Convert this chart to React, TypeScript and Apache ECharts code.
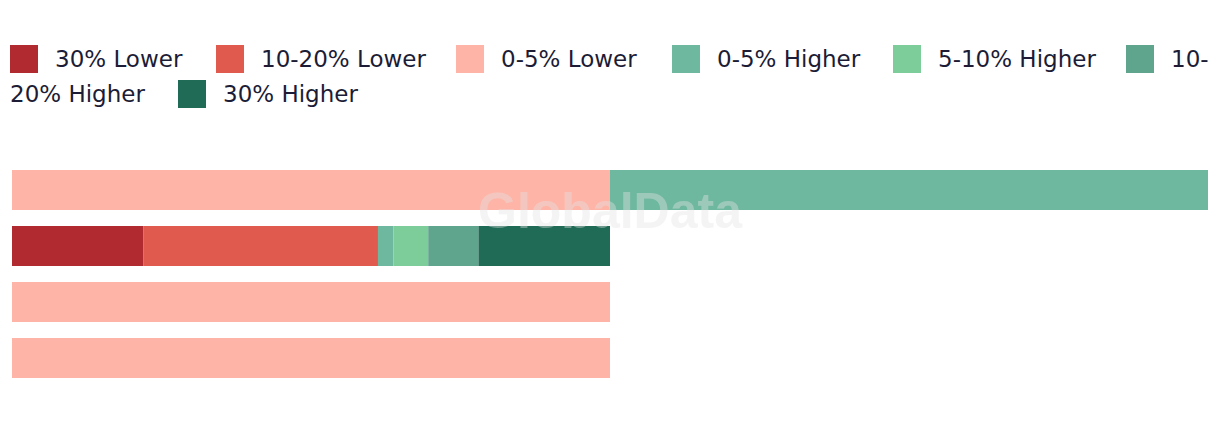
import React, { useEffect, useRef } from "react";
import * as echarts from "echarts";

const categories = ["Group 1", "Group 2", "Group 3", "Group 4"];
const seriesNames = [
  "30% Lower",
  "10-20% Lower",
  "0-5% Lower",
  "0-5% Higher",
  "5-10% Higher",
  "10-20% Higher",
  "30% Higher",
];
const thirtyLower = [0, 11.0, 0, 0];
const tenTwentyLower = [0, 19.6, 0, 0];
const zeroFiveLower = [50, 0, 50, 50];
const zeroFiveHigher = [50, 1.3, 0, 0];
const fiveTenHigher = [0, 2.9, 0, 0];
const tenTwentyHigher = [0, 4.2, 0, 0];
const thirtyHigher = [0, 11.0, 0, 0];
const seriesValues = [
  thirtyLower,
  tenTwentyLower,
  zeroFiveLower,
  zeroFiveHigher,
  fiveTenHigher,
  tenTwentyHigher,
  thirtyHigher,
];
const colors = ["#b02a2f", "#e05a4e", "#feb5a7", "#6fb8a0", "#7dcd9b", "#5fa58e", "#206b56"];

// legend item placement (flow layout of the original, wrapping after "10-")
const legendLefts = [10, 216, 456, 672, 893, 1126, 178];
const legendTops = [45, 45, 45, 45, 45, 45, 80];

const FONT = "DejaVu Sans";
const TEXT_COLOR = "#1c1c36";

export default function App() {
  const ref = useRef<HTMLDivElement>(null);
  useEffect(() => {
    document.body.style.margin = "0";
    if (!ref.current) return;
    const chart = echarts.init(ref.current, null, { renderer: "svg" });
    const legendText = {
      fontFamily: FONT,
      fontSize: 23,
      color: TEXT_COLOR,
      padding: [0, 0, 0, 12],
    };
    chart.setOption({
      animation: false,
      color: colors,
      legend: seriesNames.map((name, i) => ({
        data: [name],
        left: legendLefts[i],
        top: legendTops[i],
        padding: 0,
        itemWidth: 28,
        itemHeight: 28,
        icon: "rect",
        textStyle: legendText,
        formatter: (n: string) => (n === "10-20% Higher" ? "10-" : n),
        selectedMode: false,
      })),
      graphic: [
        {
          type: "text",
          left: 10,
          top: 80,
          style: {
            text: "20% Higher",
            fontFamily: FONT,
            fontSize: 23,
            fill: TEXT_COLOR,
            lineHeight: 28,
          },
        },
        {
          type: "text",
          x: 610,
          y: 211,
          z: 100,
          silent: true,
          style: {
            text: "GlobalData",
            fontFamily: "Liberation Sans",
            fontWeight: "bold",
            fontSize: 50,
            fill: "rgba(228,228,228,0.4)",
            align: "center",
            verticalAlign: "middle",
          },
        },
      ],
      grid: { left: 12, right: 12, top: 162, height: 224, containLabel: false },
      xAxis: { type: "value", min: 0, max: 100, show: false },
      yAxis: { type: "category", data: categories, inverse: true, show: false },
      series: seriesNames.map((name, i) => ({
        name,
        type: "bar",
        stack: "total",
        barWidth: 40,
        data: seriesValues[i],
        itemStyle: { color: colors[i] },
        emphasis: { disabled: true },
      })),
    });
    return () => chart.dispose();
  }, []);
  return <div ref={ref} style={{ width: 1220, height: 422 }} />;
}
